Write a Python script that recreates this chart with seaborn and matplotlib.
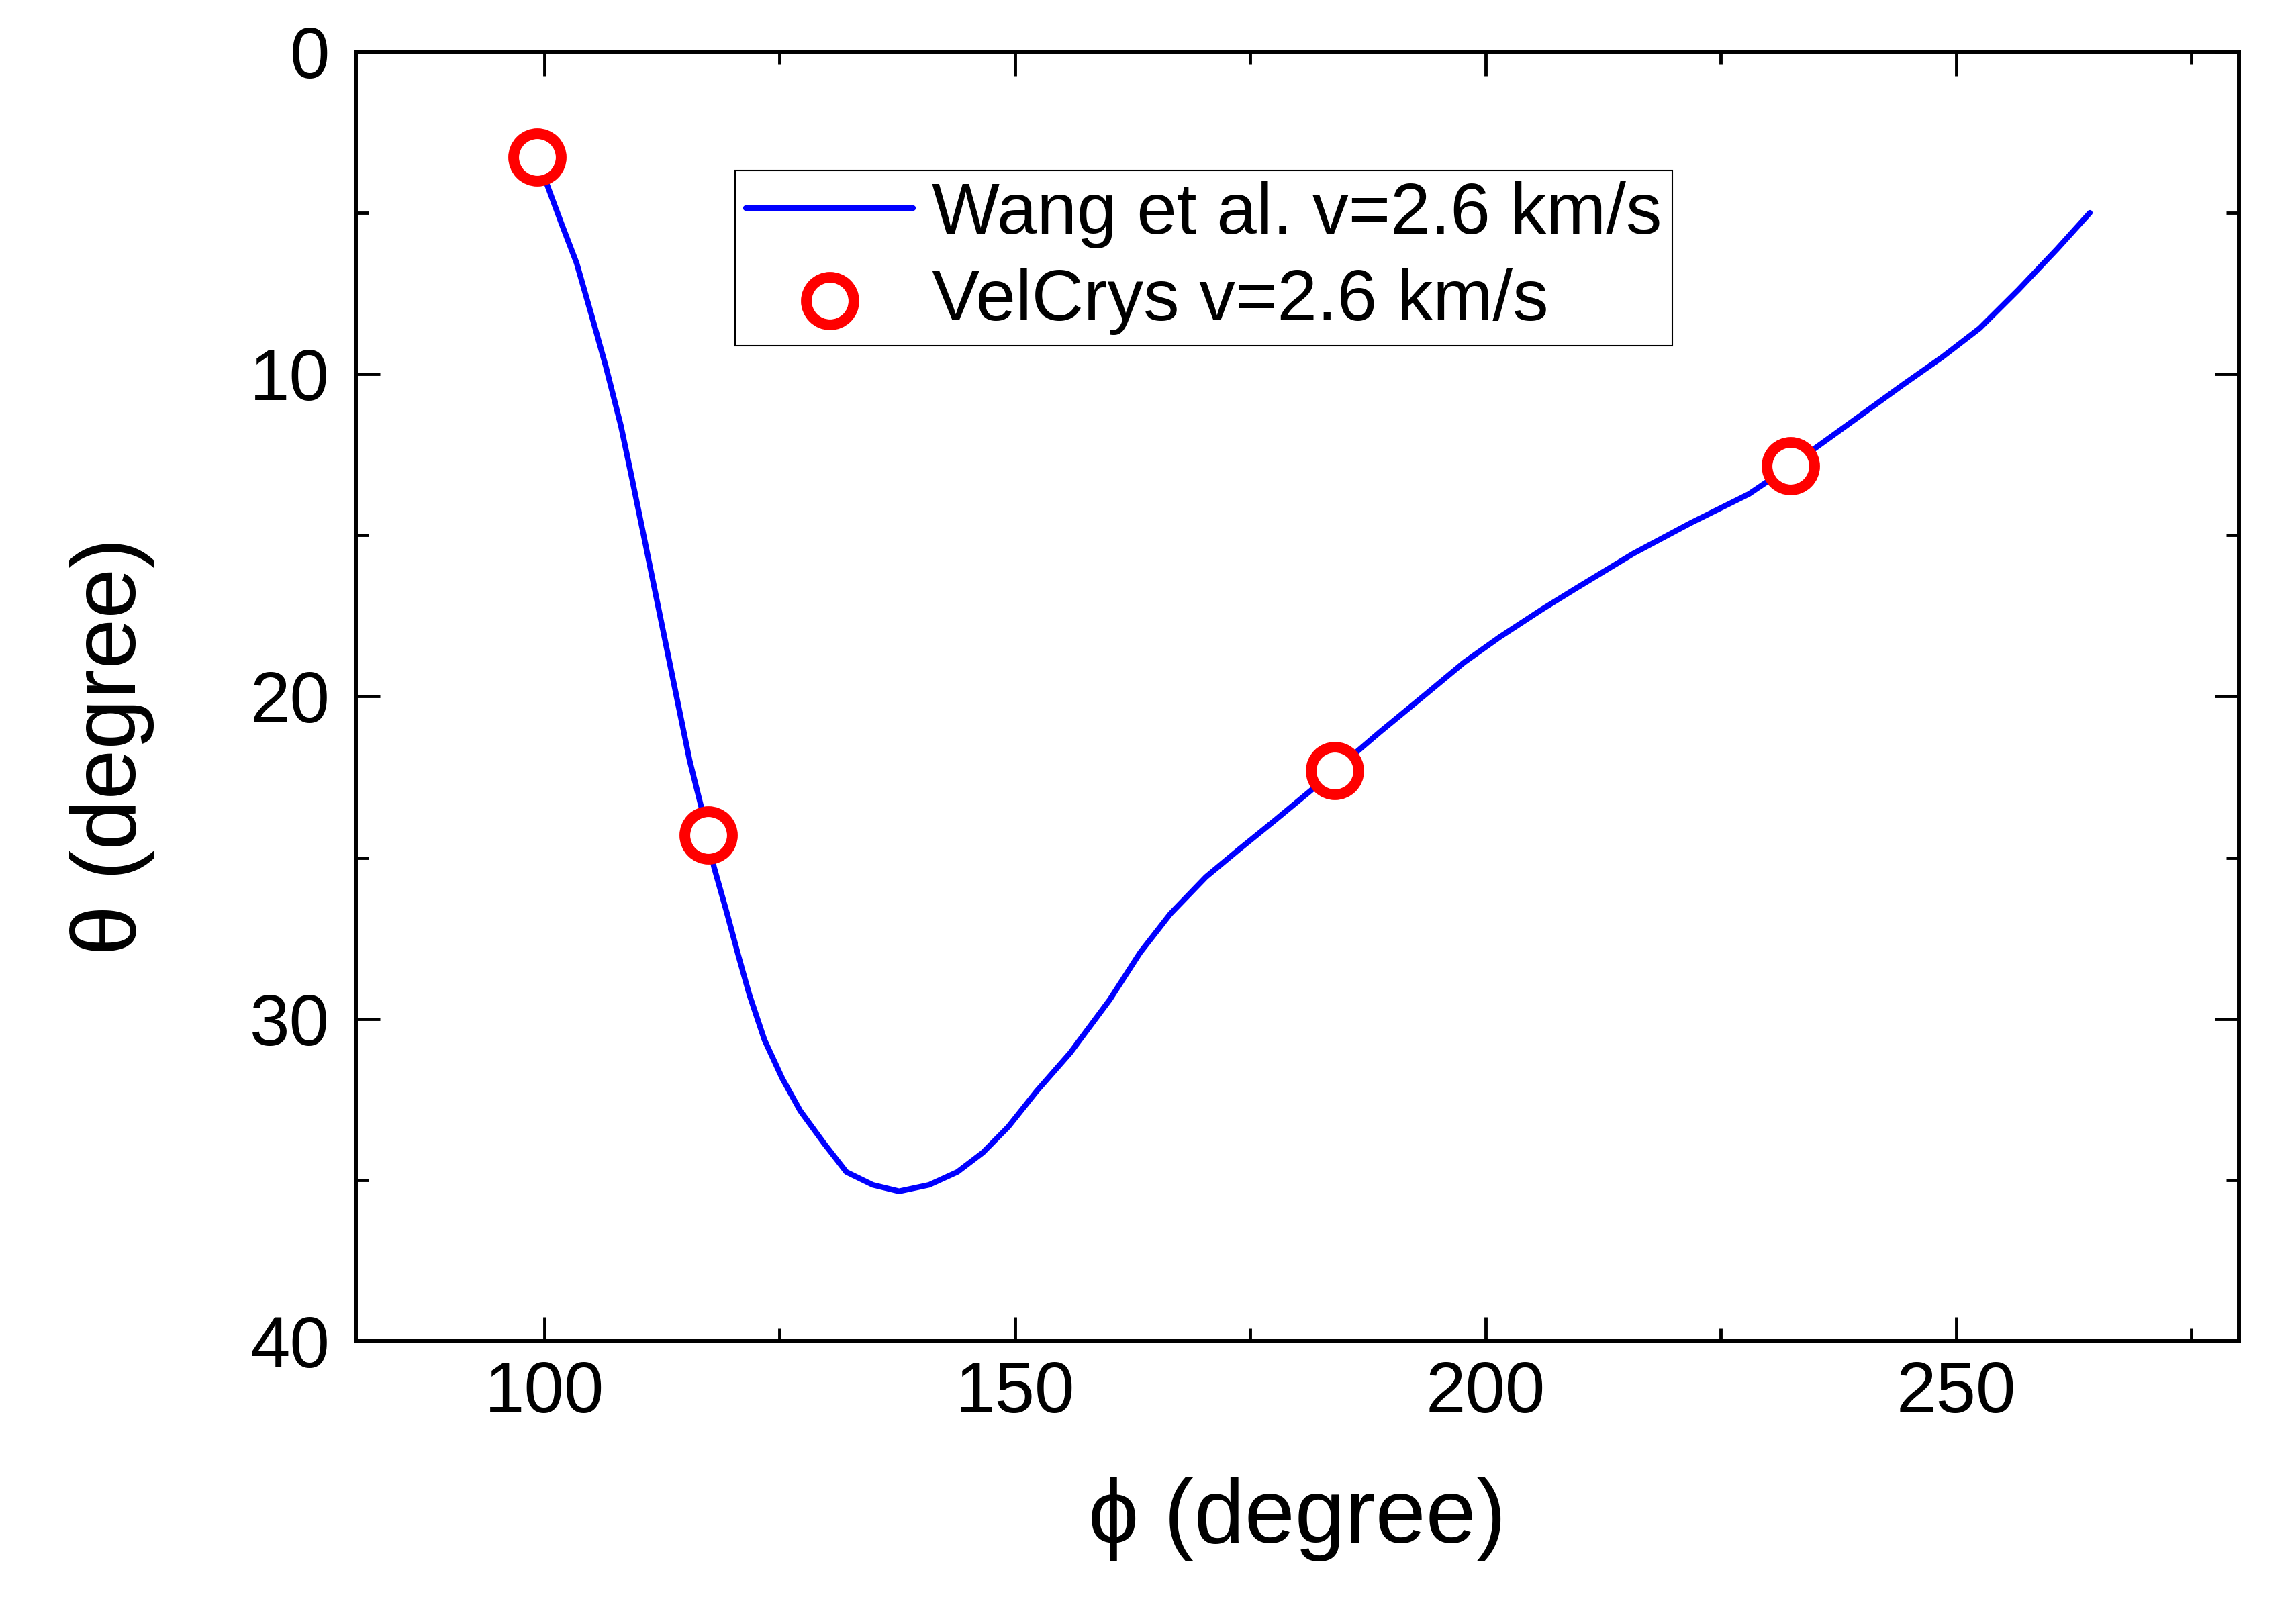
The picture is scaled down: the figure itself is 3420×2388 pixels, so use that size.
import matplotlib
matplotlib.use("Agg")
import matplotlib.pyplot as plt
from matplotlib.ticker import MultipleLocator
import seaborn as sns

# Wang et al. curve, v = 2.6 km/s
phi_curve = [99.3, 100.3, 101.85, 103.45, 104.95, 106.55, 108.15, 109.25, 110.75, 112.35,
             113.95, 115.45, 116.75, 118.05, 119.4, 120.6, 121.8, 123.4, 125.3, 127.2,
             129.7, 132.1, 134.9, 137.7, 140.9, 143.9, 146.6, 149.3, 152.3, 155.9,
             160.1, 163.3, 166.5, 170.3, 173.8, 177.6, 184.0, 188.8, 193.5, 197.7,
             201.5, 206.0, 209.6, 215.7, 221.8, 228.0, 232.4, 238.2, 244.4, 248.5,
             252.5, 256.6, 260.7, 264.2]
theta_curve = [3.3, 4.12, 5.34, 6.56, 8.09, 9.76, 11.6, 13.13, 15.26, 17.55,
               19.84, 21.98, 23.5, 25.3, 26.7, 28.0, 29.25, 30.65, 31.85, 32.85,
               33.85, 34.75, 35.15, 35.35, 35.15, 34.75, 34.15, 33.35, 32.25, 31.05,
               29.4, 27.95, 26.75, 25.6, 24.75, 23.85, 22.3, 21.1, 19.97, 18.95,
               18.16, 17.3, 16.65, 15.57, 14.62, 13.72, 12.85, 11.63, 10.32, 9.48,
               8.58, 7.39, 6.13, 5.0]

# VelCrys points, v = 2.6 km/s
phi_pts = [99.25, 117.4, 184.0, 232.4]
theta_pts = [3.28, 24.3, 22.3, 12.85]

label_curve = "Wang et al. v=2.6 km/s"
label_pts = "VelCrys v=2.6 km/s"

sns.set_style("ticks")
plt.rcParams["font.family"] = ["Liberation Sans", "DejaVu Sans"]
plt.rcParams["text.color"] = "black"
plt.rcParams["axes.labelcolor"] = "black"
plt.rcParams["xtick.color"] = "black"
plt.rcParams["ytick.color"] = "black"
plt.rcParams["axes.edgecolor"] = "black"

fig = plt.figure(figsize=(34.2, 23.88), dpi=100)
ax = fig.add_axes([0.155, 0.1633, 0.82, 0.8045])

sns.lineplot(x=phi_curve, y=theta_curve, sort=False, estimator=None,
             color="#0000ff", linewidth=6, label=label_curve, ax=ax)
sns.scatterplot(x=phi_pts, y=theta_pts, marker="o", s=2600, color="white",
                edgecolor="#ff0000", linewidth=11.5, zorder=3,
                label=label_pts, ax=ax)

ax.set_xlim(80, 280)
ax.set_ylim(40, 0)
ax.xaxis.set_major_locator(MultipleLocator(50))
ax.xaxis.set_minor_locator(MultipleLocator(25))
ax.yaxis.set_major_locator(MultipleLocator(10))
ax.yaxis.set_minor_locator(MultipleLocator(5))

for sp in ax.spines.values():
    sp.set_linewidth(4.3)
    sp.set_visible(True)

ax.tick_params(which="both", direction="in", top=True, right=True, width=3.5)
ax.tick_params(which="major", length=26, labelsize=77)
ax.tick_params(which="minor", length=14)
ax.tick_params(axis="x", which="major", pad=20)
ax.tick_params(axis="y", which="major", pad=28)

ax.set_xlabel("\u03d5 (degree)", fontsize=97)
ax.set_ylabel("\u03b8 (degree)", fontsize=97)
ax.xaxis.set_label_coords(0.5, -0.105)
ax.yaxis.set_label_coords(-0.107, 0.461)

leg = ax.legend(loc="upper left", bbox_to_anchor=(0.2014, 0.908),
                borderaxespad=0, fontsize=77, handlelength=2.33,
                handletextpad=0.26, borderpad=0.15, labelspacing=0.27,
                fancybox=False, frameon=True)
leg.get_frame().set_edgecolor("black")
leg.get_frame().set_linewidth(1.5)
leg.get_frame().set_alpha(1)

fig.savefig("out.png", dpi=100)
